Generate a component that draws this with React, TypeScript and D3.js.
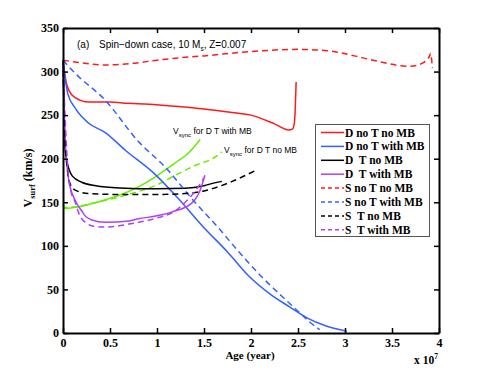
import React, { useEffect, useRef } from "react";
import * as d3 from "d3";

// ages in units of 1e7 yr, surface velocities in km/s
const ageDnoTnoMB = [0, 0.03, 0.06, 0.13, 0.27, 0.5, 0.63, 1.0, 1.16, 1.5, 1.8, 2.0, 2.25, 2.4, 2.44, 2.46, 2.47, 2.48];
const velDnoTnoMB = [313, 290, 279, 270, 265, 265, 264, 262, 260.5, 257, 253, 250, 240, 233, 234, 240, 255, 288];

const ageDnoTwithMB = [0, 0.02, 0.05, 0.13, 0.27, 0.45, 0.66, 0.98, 1.245, 1.49, 1.75, 1.99, 2.2, 2.41, 2.6, 2.8, 3.02];
const velDnoTwithMB = [313, 295, 275, 258, 241, 230, 210, 182, 152, 122, 93, 64, 45, 30, 17, 8, 2];

const ageDTnoMB = [0, 0.01, 0.02, 0.04, 0.1, 0.2, 0.35, 0.6, 1.0, 1.3, 1.5, 1.6, 1.69];
const velDTnoMB = [313, 260, 215, 198, 180, 173, 169, 166.5, 165.5, 166, 169, 172, 174];

const ageDTwithMB = [0, 0.01, 0.02, 0.04, 0.06, 0.13, 0.2, 0.23, 0.3, 0.45, 0.7, 0.8, 1.0, 1.16, 1.37, 1.46, 1.51];
const velDTwithMB = [313, 270, 230, 195, 176, 152, 140, 135, 130, 127, 128.5, 131, 134.5, 139, 149, 164, 181];

const ageSnoTnoMB = [0, 0.2, 0.45, 0.7, 1.0, 1.16, 1.5, 2.0, 2.5, 2.85, 3.1, 3.3, 3.69, 3.83, 3.9, 3.91, 3.93];
const velSnoTnoMB = [313, 310, 307.5, 309, 313, 315, 318, 323, 325.5, 323.5, 318, 313, 306, 310, 318, 321, 304];

const ageSnoTwithMB = [0, 0.13, 0.45, 0.8, 1.09, 1.38, 1.65, 1.88, 2.1, 2.34, 2.52, 2.63, 2.73];
const velSnoTwithMB = [313, 298, 267, 220, 190, 153, 121, 92, 66, 41, 23, 12, 4];

const ageSTnoMB = [0, 0.02, 0.05, 0.08, 0.13, 0.27, 0.6, 1.0, 1.3, 1.5, 1.6, 1.8, 2.04];
const velSTnoMB = [313, 230, 185, 170, 164, 160, 159, 159, 160, 163, 166, 174, 186];

const ageSTwithMB = [0, 0.01, 0.03, 0.05, 0.08, 0.13, 0.17, 0.25, 0.35, 0.45, 0.7, 1.0, 1.16, 1.3, 1.4, 1.5];
const velSTwithMB = [313, 280, 230, 190, 165, 150, 137, 126, 122, 121.5, 125, 132, 138, 150, 162, 178];

const ageSyncWithMB = [0, 0.02, 0.39, 0.77, 0.98, 1.19, 1.33, 1.46];
const velSyncWithMB = [149, 143, 151, 166, 179, 195, 206, 222];

const ageSyncNoMB = [0, 0.02, 0.4, 0.73, 1.0, 1.16, 1.4, 1.62, 1.69];
const velSyncNoMB = [147, 144, 151, 160, 170, 179, 192, 202, 208];

const xTicks = [0, 0.5, 1, 1.5, 2, 2.5, 3, 3.5, 4];
const yTicks = [0, 50, 100, 150, 200, 250, 300, 350];

const series = [
  { label: "D no T no MB", age: ageDnoTnoMB, vel: velDnoTnoMB, color: "#ff1a1a", dash: null },
  { label: "D no T with MB", age: ageDnoTwithMB, vel: velDnoTwithMB, color: "#3360ff", dash: null },
  { label: "D  T no MB", age: ageDTnoMB, vel: velDTnoMB, color: "#000000", dash: null },
  { label: "D  T with MB", age: ageDTwithMB, vel: velDTwithMB, color: "#b040f0", dash: null },
  { label: "S no T no MB", age: ageSnoTnoMB, vel: velSnoTnoMB, color: "#ff1a1a", dash: "6,4" },
  { label: "S no T with MB", age: ageSnoTwithMB, vel: velSnoTwithMB, color: "#3360ff", dash: "6,4" },
  { label: "S  T no MB", age: ageSTnoMB, vel: velSTnoMB, color: "#000000", dash: "6,4" },
  { label: "S  T with MB", age: ageSTwithMB, vel: velSTwithMB, color: "#b040f0", dash: "6,4" },
];

const syncSeries = [
  { age: ageSyncWithMB, vel: velSyncWithMB, color: "#66ee00", dash: null },
  { age: ageSyncNoMB, vel: velSyncNoMB, color: "#66ee00", dash: "6,4" },
];

export default function App() {
  const ref = useRef<SVGSVGElement>(null);

  useEffect(() => {
    const width = 485, height = 375;
    const margin = { top: 28, right: 46, bottom: 42, left: 63 };
    const svg = d3.select(ref.current);
    svg.selectAll("*").remove();

    const x = d3.scaleLinear().domain([0, 4]).range([margin.left, width - margin.right]);
    const y = d3.scaleLinear().domain([0, 350]).range([height - margin.bottom, margin.top]);

    const serif = "'Liberation Serif', 'Times New Roman', serif";
    const sans = "'Liberation Sans', Arial, sans-serif";

    const line = d3.line<[number, number]>()
      .x(d => x(d[0]))
      .y(d => y(d[1]))
      .curve(d3.curveMonotoneX);

    const plot = svg.append("g");
    [...syncSeries, ...series].forEach(s => {
      const pts = s.age.map((a, i) => [a, s.vel[i]] as [number, number]);
      plot.append("path")
        .attr("d", line(pts))
        .attr("fill", "none")
        .attr("stroke", s.color)
        .attr("stroke-width", 1.5)
        .attr("stroke-dasharray", s.dash)
    });

    // axes box with inward ticks
    const x0 = margin.left, x1 = width - margin.right, y0 = height - margin.bottom, y1 = margin.top;
    const axisBottom = d3.axisBottom(x).tickValues(xTicks).tickSizeInner(-5).tickSizeOuter(0).tickPadding(5)
      .tickFormat(d => String(d));
    const axisLeft = d3.axisLeft(y).tickValues(yTicks).tickSizeInner(-5).tickSizeOuter(0).tickPadding(4);
    const axisTop = d3.axisTop(x).tickValues(xTicks).tickSizeInner(-5).tickSizeOuter(0).tickFormat(() => "");
    const axisRight = d3.axisRight(y).tickValues(yTicks).tickSizeInner(-5).tickSizeOuter(0).tickFormat(() => "");

    const gB = svg.append("g").attr("transform", `translate(0,${y0})`).call(axisBottom);
    const gL = svg.append("g").attr("transform", `translate(${x0},0)`).call(axisLeft);
    const gT = svg.append("g").attr("transform", `translate(0,${y1})`).call(axisTop);
    const gR = svg.append("g").attr("transform", `translate(${x1},0)`).call(axisRight);
    [gB, gL, gT, gR].forEach(g => {
      g.select(".domain").attr("stroke", "#000").attr("stroke-width", 2);
      g.selectAll(".tick line").attr("stroke", "#000").attr("stroke-width", 1.5);
      g.selectAll(".tick text")
        .attr("fill", "#000")
        .attr("font-family", serif)
        .attr("font-weight", "bold")
        .attr("font-size", 12);
    });

    // x 10^7
    const mult = svg.append("text")
      .attr("x", 414).attr("y", 364)
      .attr("font-family", serif).attr("font-weight", "bold").attr("font-size", 11.5);
    mult.append("tspan").text("x 10");
    mult.append("tspan").attr("dy", -5).attr("font-size", 7.5).text("7");

    // axis labels
    svg.append("text")
      .attr("x", 250).attr("y", 359)
      .attr("text-anchor", "middle")
      .attr("font-family", serif).attr("font-weight", "bold").attr("font-size", 11)
      .text("Age (year)");

    const yl = svg.append("text")
      .attr("transform", "translate(32,178) rotate(-90)")
      .attr("text-anchor", "middle")
      .attr("font-family", serif).attr("font-weight", "bold").attr("font-size", 12);
    yl.append("tspan").text("V");
    yl.append("tspan").attr("dy", 3).attr("font-size", 8.5).text("surf");
    yl.append("tspan").attr("dy", -3).text(" (km/s)");

    // title
    svg.append("text")
      .attr("x", 77).attr("y", 48)
      .attr("font-family", sans).attr("font-size", 10)
      .text("(a)");
    const title = svg.append("text")
      .attr("x", 99).attr("y", 48)
      .attr("font-family", sans).attr("font-size", 10);
    title.append("tspan").text("Spin\u2212down case, 10 M");
    title.append("tspan").attr("dy", 3).attr("font-size", 6.5).text("s");
    title.append("tspan").attr("dy", -3).text(", Z=0.007");

    // Vsync annotations
    const ann = (tx: number, ty: number, rest: string) => {
      const t = svg.append("text")
        .attr("x", tx).attr("y", ty)
        .attr("font-family", sans).attr("font-size", 8.5);
      t.append("tspan").text("V");
      t.append("tspan").attr("dy", 3).attr("font-size", 6).text("sync");
      t.append("tspan").attr("dy", -3).text(rest);
    };
    ann(173, 134, " for D T with MB");
    ann(224, 153, " for D T no MB");

    // legend
    const lg = svg.append("g");
    lg.append("rect")
      .attr("x", 315.5).attr("y", 124.5).attr("width", 114).attr("height", 112)
      .attr("fill", "#fff").attr("stroke", "#555").attr("stroke-width", 1);
    series.forEach((s, i) => {
      const ly = 132.5 + i * 13.9;
      lg.append("line")
        .attr("x1", 321).attr("x2", 344).attr("y1", ly).attr("y2", ly)
        .attr("stroke", s.color).attr("stroke-width", 1.5)
        .attr("stroke-dasharray", s.dash ? "4,3" : null);
      lg.append("text")
        .attr("x", 345).attr("y", ly + 4)
        .attr("font-family", serif).attr("font-weight", "bold").attr("font-size", 11.5)
        .style("white-space", "pre")
        .text(s.label);
    });
  }, []);

  return (
    <svg ref={ref} width={485} height={375}
      style={{ position: "absolute", left: 0, top: 0, background: "#fff" }} />
  );
}
